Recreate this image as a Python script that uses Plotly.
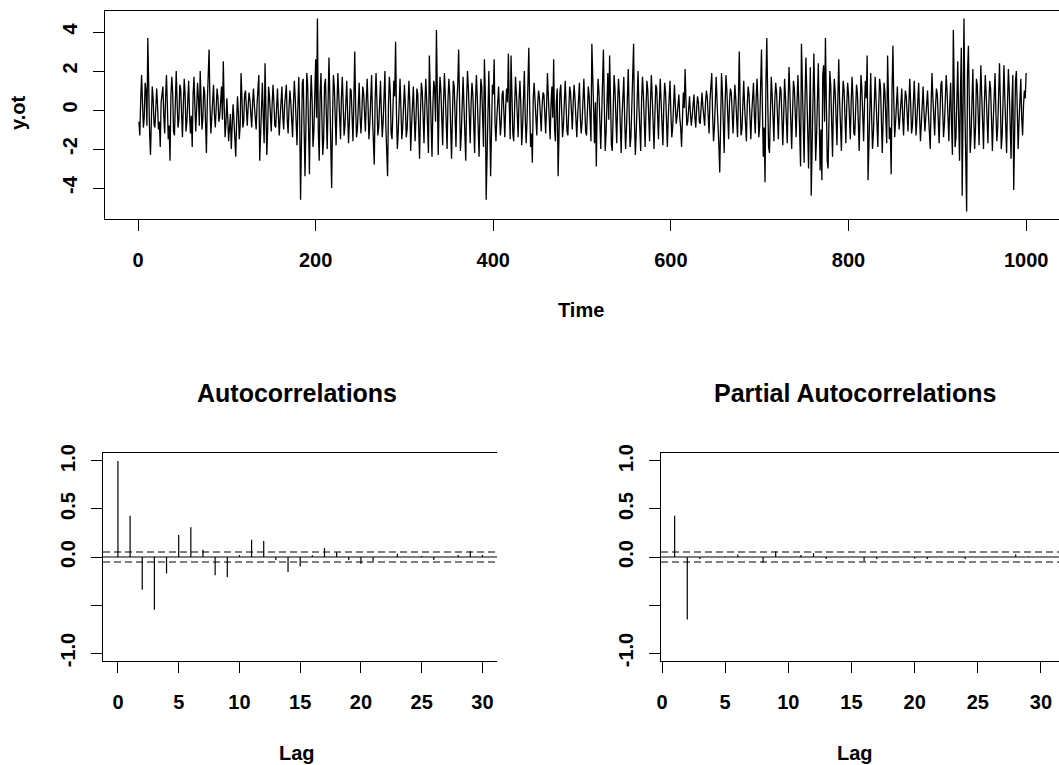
import plotly.graph_objects as go

# ---------------- data ----------------
y_ot = [
-0.6,-1.3,0.5,1.8,0.4,-0.9,-0.4,1.4,1.0,-0.8,
3.7,0.2,-1.1,-2.3,0.3,1.2,0.6,-0.7,-0.9,0.5,
1.1,0.2,-1.0,-0.6,-1.9,0.4,0.9,1.2,-0.3,-1.2,
0.6,1.8,0.3,-1.5,-0.8,-2.6,0.7,1.7,0.9,-1.1,
-1.3,0.5,2.0,0.4,-0.9,-0.5,1.3,1.1,-0.7,-1.4,
0.2,1.6,0.8,-1.1,-0.6,1.0,1.5,-0.2,-1.2,-0.3,
-1.9,0.8,1.7,0.2,-1.1,0.1,1.4,0.6,-0.8,2.0,
0.5,-1.0,-0.4,1.2,0.9,-0.9,-2.2,0.4,1.5,3.1,
0.3,-1.2,-0.4,1.0,1.3,-0.2,-0.9,0.1,1.1,0.6,
-0.6,-0.3,0.9,1.2,-0.5,2.5,0.3,-1.4,-0.7,0.6,
-0.4,-1.6,-0.9,-0.2,-2.0,-1.1,0.3,-0.5,-1.8,-2.4,
-0.6,0.7,-0.2,-1.5,-0.8,1.9,0.6,-0.9,-0.6,0.8,
1.0,-0.1,-0.8,0.2,0.9,0.5,-0.7,-0.9,0.4,1.1,
0.2,-0.6,-1.0,0.3,0.9,1.8,-2.6,-0.8,1.0,1.4,
-0.4,-1.7,2.4,0.5,-2.3,-0.9,1.2,0.7,-0.5,-1.1,
0.3,1.3,0.4,-0.8,-0.9,0.6,1.1,-0.2,-1.3,-0.4,
0.9,1.2,-0.3,-1.0,0.2,0.8,1.3,-0.5,-1.2,0.1,
1.0,0.4,-0.7,-1.4,0.3,1.5,0.6,-1.0,-1.8,0.2,
1.7,-0.3,-4.6,-1.6,1.4,1.6,-0.7,-3.4,-0.9,1.9,
1.3,-1.4,-3.3,0.2,1.8,0.5,-1.9,-1.1,1.2,2.6,
-0.4,4.7,-1.1,-2.6,0.8,1.9,-0.3,-2.3,-1.5,1.3,
1.6,-1.0,-2.0,0.4,2.7,0.6,-1.6,-4.0,-0.5,1.8,
1.2,-0.9,-1.8,0.2,1.9,0.8,-1.2,-1.5,0.6,1.7,
0.3,-1.3,-0.8,0.9,1.5,-0.2,-1.7,-0.6,1.1,1.0,
-0.5,-1.6,0.4,3.0,0.2,-1.4,-1.0,0.7,1.4,-0.3,
-1.2,-0.2,1.2,0.9,-0.6,-1.1,0.5,1.6,0.2,-1.5,
-0.7,1.0,1.8,-0.4,-1.6,-2.8,0.6,1.9,0.4,-1.3,
-0.9,0.8,1.5,-0.1,-1.4,-0.6,1.2,2.0,-0.8,-1.9,
-3.4,0.3,1.7,0.9,-1.2,-1.5,0.4,1.5,0.7,3.5,
-0.2,-2.0,-1.1,0.8,1.6,0.1,-1.5,-0.9,0.7,1.3,
0.2,-1.4,-1.0,0.5,1.5,0.4,-2.1,-0.8,0.9,1.2,
-0.3,-1.6,-0.4,1.1,0.8,-0.7,-2.5,-0.2,1.4,1.0,
-0.8,-1.7,0.3,1.6,0.5,-1.2,-2.2,2.8,0.6,-1.9,
-2.4,0.2,1.5,1.1,-0.6,4.1,-0.9,-2.3,0.3,1.7,
1.0,-1.1,-1.8,0.4,1.9,0.7,-1.4,-2.0,0.5,1.6,
0.8,-1.0,-2.5,-0.3,1.5,1.2,-0.8,-1.9,0.4,1.3,
3.1,-0.5,-2.1,-1.2,0.9,1.7,0.2,-1.6,-2.6,0.6,
2.0,1.1,-1.3,-1.7,0.3,1.4,0.8,-0.9,-2.2,0.5,
1.8,0.6,-1.5,-2.4,-0.2,1.6,1.2,-1.0,-1.9,2.6,
0.9,-4.6,-1.8,1.0,2.0,-0.5,-3.4,-1.1,1.3,0.8,
2.6,-0.7,-1.6,-0.4,0.9,1.2,-0.2,-1.3,-0.6,0.8,
1.0,-0.5,-1.4,0.2,1.1,0.4,2.9,0.3,-1.5,2.8,
0.6,-1.2,-1.6,0.4,1.7,0.9,-1.0,-1.4,0.5,1.5,
0.3,-1.8,-0.9,1.2,2.0,-0.4,-1.7,-0.6,1.1,3.2,
0.2,-1.9,-1.2,-2.7,0.6,1.4,0.5,-0.9,-1.3,0.3,
1.0,0.6,-0.7,-1.1,0.2,0.9,0.8,-0.6,-1.2,0.1,
1.9,0.7,-0.9,-1.5,0.3,1.2,-0.4,2.6,-1.0,-1.6,
0.4,1.1,-3.4,-0.8,0.9,1.3,-0.2,-1.4,-0.8,0.7,
1.5,0.3,-1.1,-1.3,0.2,1.2,0.9,-0.6,-1.0,0.4,
1.3,0.6,-0.8,-1.4,-0.3,1.0,1.4,-0.4,-1.2,-0.6,
0.8,1.6,0.2,-1.1,-1.3,0.5,1.2,0.7,-0.9,-1.6,
3.4,1.1,-0.8,-1.7,0.4,-2.9,0.2,1.6,0.9,-1.3,
-2.0,-0.4,1.4,3.1,0.3,-2.1,-1.2,0.8,1.9,-0.5,
2.8,0.6,-1.8,-2.1,0.2,1.8,1.1,-0.9,-1.7,0.3,
1.6,0.8,-1.2,-2.2,-0.3,1.4,1.7,-0.6,-2.0,-0.9,
1.2,2.1,-0.1,-1.9,-1.4,0.6,1.8,3.4,-0.7,-2.3,
-1.1,0.9,2.0,0.2,-1.8,-2.1,0.5,1.7,0.8,-1.2,
-1.9,0.1,1.5,1.0,-0.7,-1.6,0.4,1.8,0.6,-1.3,
-2.0,-0.2,1.3,1.1,-0.8,-1.5,0.3,1.6,0.4,-1.1,
-1.8,0.2,1.4,0.9,-0.6,-1.9,-0.4,1.2,1.5,-0.2,
-1.4,-0.9,0.6,1.3,0.2,-0.7,-0.3,0.5,0.8,-0.4,
-0.9,-1.9,0.3,0.9,0.1,2.1,0.4,-0.8,-0.6,0.3,
0.7,-0.2,-0.8,-0.3,0.6,0.8,-0.4,-0.9,0.1,0.7,
0.4,-0.6,-0.7,0.3,0.9,0.2,-0.5,-0.8,0.4,1.0,
0.6,-0.7,-1.2,0.5,1.6,1.9,-0.3,-1.6,-0.9,0.8,
1.7,0.4,-1.4,-1.8,-3.2,0.6,1.9,0.9,-1.1,-2.2,
0.2,1.8,1.0,-0.9,-1.5,0.4,1.1,0.9,-0.5,-1.2,
0.1,1.3,0.6,-0.8,-1.4,0.5,3.0,0.3,-1.3,-1.0,
0.6,1.5,0.2,-1.1,-1.6,0.3,1.2,0.8,-0.7,-1.5,
-0.2,1.0,1.4,-0.3,-1.2,0.6,1.6,0.4,-1.4,-0.8,
1.9,3.1,0.2,-2.4,-0.9,-3.7,1.4,3.7,0.6,-1.9,
-2.2,0.3,1.7,0.8,-1.0,-1.6,0.5,1.4,0.9,-0.7,
-1.5,0.2,1.2,1.0,-0.6,-1.8,-0.3,1.6,0.7,-1.1,
-1.7,0.4,2.2,0.9,-1.2,-2.0,-0.1,1.5,1.1,-0.8,
-1.4,0.3,1.8,0.5,-1.6,-2.9,3.4,1.2,-1.5,-2.7,
0.4,2.7,1.0,-1.3,-3.0,-0.5,2.2,-4.4,-1.8,1.7,
2.9,0.3,-2.6,-1.4,1.2,2.4,-0.4,-3.1,-1.0,-3.6,
1.8,2.3,-0.6,3.7,0.5,-2.6,-3.0,0.4,2.0,1.2,
-1.1,-2.4,0.2,1.6,0.9,-1.0,-1.8,0.6,2.6,0.4,
-1.6,-2.1,0.3,1.5,1.0,-0.8,-1.7,0.2,1.4,0.8,
-0.9,-1.5,0.4,1.7,0.6,-1.2,-1.3,0.5,1.3,0.9,
-0.7,-2.1,-0.2,1.8,1.1,-0.9,-1.6,0.3,1.5,0.6,
2.8,-3.6,-1.4,1.1,1.9,-0.3,-2.0,-1.2,0.8,1.7,
0.5,-1.3,-1.9,0.2,1.6,1.2,-0.8,-2.2,-0.4,1.4,
0.9,-1.1,-1.7,2.8,0.6,-1.5,-0.9,-3.3,1.0,3.3,
0.4,-1.4,-0.6,0.8,1.2,-0.2,-1.0,-0.3,0.9,1.1,
-0.4,-1.3,0.1,1.0,0.7,-0.6,-1.1,0.4,1.6,0.3,
-1.2,-0.8,0.6,1.5,0.2,-1.3,-0.5,0.9,1.4,-0.3,
-1.6,-0.7,0.8,1.2,-0.1,-1.1,-0.4,0.7,1.0,-0.2,
-1.0,-2.0,0.3,1.9,0.6,-0.9,-1.3,0.2,1.1,0.8,
-0.5,-1.7,-0.2,1.3,1.5,-0.1,-1.4,-0.7,0.6,1.8,
0.9,-1.0,-1.6,0.3,1.4,-0.8,-2.3,4.1,0.5,-1.9,
-1.4,1.2,2.5,-0.4,-2.6,0.8,3.2,-4.4,1.6,4.7,
0.2,-2.5,-5.2,1.9,3.3,0.5,-2.2,-1.3,1.4,2.1,
-0.3,-2.0,-0.9,1.6,1.3,-1.1,-1.8,0.5,2.3,0.7,
-1.5,-2.0,0.4,1.8,0.8,-1.2,-1.7,0.3,1.5,1.1,
-0.6,-2.1,-0.5,1.2,1.9,-0.2,-1.6,-0.9,0.8,2.4,
0.4,-2.0,-1.3,0.9,2.3,0.6,-1.7,-2.2,0.3,2.1,
1.0,-1.5,-2.5,0.4,1.8,-4.1,-0.8,1.5,2.0,-0.9,
-2.0,-0.6,1.2,1.6,-0.4,-1.3,0.2,1.0,0.6,1.9,
]
time = list(range(1, len(y_ot) + 1))

acf_lags = list(range(0, 31))
acf_vals = [1.0, 0.43, -0.34, -0.55, -0.17, 0.23, 0.31, 0.076, -0.19, -0.21,
            0.02, 0.18, 0.166, -0.03, -0.156, -0.10, 0.017, 0.093, 0.05, -0.03,
            -0.07, -0.045, 0.0, 0.035, 0.0, 0.01, -0.03, 0.0, 0.02, 0.06, 0.02]

pacf_lags = list(range(1, 31))
pacf_vals = [0.43, -0.65, -0.02, 0.0, 0.005, 0.025, 0.0, -0.06, 0.06, 0.0,
             0.02, 0.04, -0.02, 0.0, 0.0, -0.045, -0.02, 0.0, 0.0, -0.015,
             -0.02, 0.0, 0.0, -0.02, 0.0, 0.0, 0.0, 0.025, 0.005, 0.0]

ci = 0.052

x_ticks_time = [0, 200, 400, 600, 800, 1000]
y_ticks_time = [-4, -2, 0, 2, 4]
lag_ticks = [0, 5, 10, 15, 20, 25, 30]
corr_ticks = [-1.0, -0.5, 0.0, 0.5, 1.0]
corr_tick_text = ["-1.0", "", "0.0", "0.5", "1.0"]

# ---------------- helpers ----------------
W, H = 1059, 765
FONT = "Liberation Sans"


def px_x(p):
    return p / W


def px_y(p):
    return 1 - p / H


def sticks(xs, ys):
    sx, sy = [], []
    for a, b in zip(xs, ys):
        sx += [a, a, None]
        sy += [0, b, None]
    return sx, sy


fig = go.Figure()

fig.add_trace(go.Scatter(x=time, y=y_ot, mode="lines",
                         line=dict(color="black", width=1.3),
                         xaxis="x", yaxis="y", showlegend=False,
                         hoverinfo="skip"))

ax, ay = sticks(acf_lags, acf_vals)
fig.add_trace(go.Scatter(x=ax, y=ay, mode="lines",
                         line=dict(color="black", width=1.2),
                         xaxis="x2", yaxis="y2", showlegend=False,
                         hoverinfo="skip"))

px_, py_ = sticks(pacf_lags, pacf_vals)
fig.add_trace(go.Scatter(x=px_, y=py_, mode="lines",
                         line=dict(color="black", width=1.2),
                         xaxis="x3", yaxis="y3", showlegend=False,
                         hoverinfo="skip"))

tickfont = dict(family=FONT, size=20, color="black", weight="bold")


def xstyle(domain, rng, tickvals, anchor):
    return dict(domain=domain, range=rng, anchor=anchor,
                tickmode="array", tickvals=tickvals,
                ticktext=[str(v) for v in tickvals],
                showline=True, linecolor="black", linewidth=1.2, mirror=True,
                ticks="outside", ticklen=11, tickwidth=1.2, tickcolor="black",
                showgrid=False, zeroline=False, tickfont=tickfont,
                ticklabelstandoff=12, automargin=False)


def ystyle(domain, rng, tickvals, ticktext, anchor):
    return dict(domain=domain, range=rng, anchor=anchor,
                tickmode="array", tickvals=tickvals, ticktext=ticktext,
                showline=True, linecolor="black", linewidth=1.2, mirror=False,
                ticks="outside", ticklen=11, tickwidth=1.2, tickcolor="black",
                showgrid=False, zeroline=False, tickfont=tickfont,
                tickangle=-90, ticklabelstandoff=8, automargin=False)


fig.update_layout(
    width=W, height=H, autosize=False,
    margin=dict(l=0, r=0, t=0, b=0, pad=0),
    paper_bgcolor="white", plot_bgcolor="white",
    showlegend=False,
    xaxis=xstyle([px_x(105), 1.0], [-37.2, 1037], x_ticks_time, "y"),
    yaxis=ystyle([px_y(219), px_y(11)], [-5.59, 5.08], y_ticks_time,
                 [str(v) for v in y_ticks_time], "x"),
    xaxis2=xstyle([px_x(103), px_x(497)], [-1.23, 31.2], lag_ticks, "y2"),
    yaxis2=ystyle([px_y(661), px_y(453)], [-1.083, 1.083], corr_ticks,
                  corr_tick_text, "x2"),
    xaxis3=xstyle([px_x(661), 1.0], [-0.08, 31.43], lag_ticks, "y3"),
    yaxis3=ystyle([px_y(661), px_y(453)], [-1.083, 1.083], corr_ticks,
                  corr_tick_text, "x3"),
)

shapes = []
for xr, yr in (("x2", "y2"), ("x3", "y3")):
    shapes.append(dict(type="line", xref=f"{xr} domain", yref=yr,
                       x0=0, x1=1, y0=0, y1=0,
                       line=dict(color="black", width=1.2)))
    for s in (ci, -ci):
        shapes.append(dict(type="line", xref=f"{xr} domain", yref=yr,
                           x0=0, x1=1, y0=s, y1=s,
                           line=dict(color="black", width=1.2, dash="7px,4px")))
fig.update_layout(shapes=shapes)

lab = dict(family=FONT, size=20, color="black", weight="bold")
ttl = dict(family=FONT, size=25, color="black", weight="bold")
ann = [
    dict(text="y.ot", x=px_x(18), y=px_y(113), textangle=-90, font=lab),
    dict(text="Time", x=px_x(581), y=px_y(310), font=lab),
    dict(text="Autocorrelations", x=px_x(297), y=px_y(393), font=ttl),
    dict(text="Partial Autocorrelations", x=px_x(855), y=px_y(393), font=ttl),
    dict(text="Lag", x=px_x(297), y=px_y(753), font=lab),
    dict(text="Lag", x=px_x(855), y=px_y(753), font=lab),
]
for a in ann:
    a.update(xref="paper", yref="paper", showarrow=False,
             xanchor="center", yanchor="middle")
fig.update_layout(annotations=ann)

fig.write_html("out.html")
